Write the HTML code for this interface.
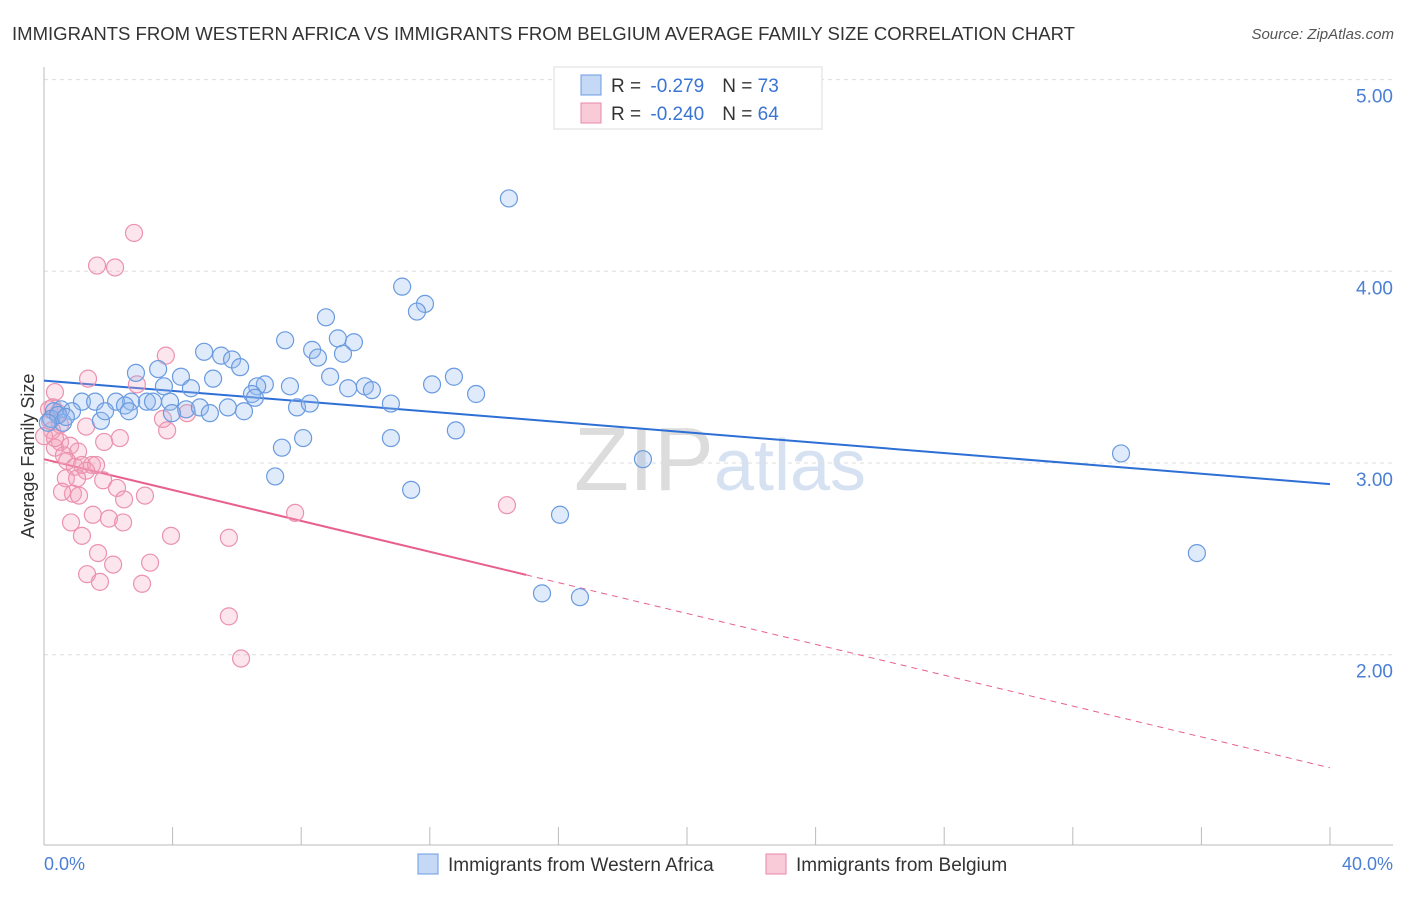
<!DOCTYPE html>
<html><head><meta charset="utf-8">
<style>
body{margin:0;background:#fff;font-family:"Liberation Sans",sans-serif;}
svg text{font-family:"Liberation Sans",sans-serif;}
</style></head>
<body>
<svg id="chart" width="1406" height="892">
<text x="12" y="40" font-size="18.5" fill="#333" textLength="1063" lengthAdjust="spacingAndGlyphs">IMMIGRANTS FROM WESTERN AFRICA VS IMMIGRANTS FROM BELGIUM AVERAGE FAMILY SIZE CORRELATION CHART</text>
<text x="1394" y="39" font-size="15" fill="#555" font-style="italic" text-anchor="end">Source: ZipAtlas.com</text>
<text x="720" y="490" font-size="90" fill="#e4e4e4" font-family="Liberation Serif" text-anchor="middle"><tspan fill="#dcdcdc">ZIP</tspan><tspan fill="#d6e2f2" font-family="Liberation Sans" font-size="72">atlas</tspan></text>
<g id="grid"></g>
<g id="axes"></g>
<g id="lines"></g>
<g id="pts"></g>
<text transform="translate(34,456) rotate(-90)" font-size="18" fill="#333" text-anchor="middle">Average Family Size</text>
<text x="44" y="870" font-size="18" fill="#4a7fd4">0.0%</text>
<text x="1393" y="870" font-size="18" fill="#4a7fd4" text-anchor="end">40.0%</text>
<g>
<rect x="554" y="67" width="268" height="62" fill="#fff" stroke="#ddd"/>
<rect x="581" y="75" width="20" height="20" fill="#c5d8f5" stroke="#6a9be0"/>
<text x="611" y="92" font-size="19" fill="#333">R = <tspan fill="#3a74d4" dx="4">-0.279</tspan><tspan dx="18">N = </tspan><tspan fill="#3a74d4">73</tspan></text>
<rect x="581" y="103" width="20" height="20" fill="#f9cad8" stroke="#e88aa8"/>
<text x="611" y="120" font-size="19" fill="#333">R = <tspan fill="#3a74d4" dx="4">-0.240</tspan><tspan dx="18">N = </tspan><tspan fill="#3a74d4">64</tspan></text>
</g>
<g>
<rect x="418" y="854" width="20" height="20" fill="#c5d8f5" stroke="#6a9be0"/>
<text x="448" y="871" font-size="19" fill="#333">Immigrants from Western Africa</text>
<rect x="766" y="854" width="20" height="20" fill="#f9cad8" stroke="#e88aa8"/>
<text x="796" y="871" font-size="19" fill="#333">Immigrants from Belgium</text>
</g>
</svg>
<script>
const yTicks=[2,3,4,5];
const yTickLabels=["2.00","3.00","4.00","5.00"];
const xTicks=[0,4,8,12,16,20,24,28,32,36,40];
const blueX=[14.46,11.14,11.85,11.60,8.77,7.50,9.14,9.64,4.98,5.51,5.85,8.34,8.52,9.30,3.55,2.86,6.10,4.26,5.26,8.90,12.75,12.07,6.87,7.65,3.73,4.57,6.63,9.46,9.98,10.20,13.44,6.47,6.56,1.18,1.59,2.24,3.20,3.39,3.92,2.71,2.52,0.53,0.87,0.31,0.22,0.59,1.77,1.90,4.42,4.85,5.72,6.22,5.16,7.87,8.27,10.79,3.98,0.44,8.06,10.79,12.81,7.40,7.19,11.42,18.63,16.05,33.50,35.86,15.49,16.67,0.12,0.68,2.64];
const blueY=[4.38,3.92,3.83,3.79,3.76,3.64,3.65,3.63,3.58,3.56,3.54,3.59,3.55,3.57,3.49,3.47,3.50,3.45,3.44,3.45,3.45,3.41,3.41,3.40,3.40,3.39,3.40,3.39,3.40,3.38,3.36,3.36,3.34,3.32,3.32,3.32,3.32,3.32,3.32,3.32,3.30,3.28,3.27,3.27,3.23,3.21,3.22,3.27,3.28,3.29,3.29,3.27,3.26,3.29,3.31,3.31,3.26,3.25,3.13,3.13,3.17,3.08,2.93,2.86,3.02,2.73,3.05,2.53,2.32,2.30,3.21,3.24,3.27];
const pinkX=[2.80,1.65,2.21,3.79,1.37,2.89,0.34,0.28,0.16,0.44,0.50,0.25,1.31,2.36,1.87,3.70,3.83,4.45,0.50,0.34,0.81,1.06,0.62,0.72,0.96,1.18,1.49,1.62,1.31,0.68,1.03,1.84,2.27,0.90,0.56,1.09,3.14,2.49,7.81,1.52,2.02,2.46,0.84,1.18,3.95,5.75,1.68,2.15,1.34,1.74,3.05,3.30,14.40,5.75,6.13,0.0,0.19,0.34];
const pinkY=[4.20,4.03,4.02,3.56,3.44,3.41,3.37,3.29,3.28,3.26,3.20,3.17,3.19,3.13,3.11,3.23,3.17,3.26,3.11,3.08,3.09,3.06,3.04,3.01,2.98,2.99,2.99,2.99,2.96,2.92,2.92,2.91,2.87,2.84,2.85,2.83,2.83,2.81,2.74,2.73,2.71,2.69,2.69,2.62,2.62,2.61,2.53,2.47,2.42,2.38,2.37,2.48,2.78,2.20,1.98,3.14,3.22,3.13];
const blueTrend=[3.43,2.89];
const pinkTrend=[3.02,1.41];
const pinkSolidEnd=15.0;

const sx=v=>44+v*32.15;
const sy=v=>463-(v-3)*191.7;
const NS="http://www.w3.org/2000/svg";
function mk(tag,attrs,parent){const e=document.createElementNS(NS,tag);for(const k in attrs)e.setAttribute(k,attrs[k]);document.getElementById(parent).appendChild(e);return e;}

yTicks.forEach((t,i)=>{
  const g=mk('line',{x1:44,x2:1393,y1:sy(t),y2:sy(t),stroke:'#ddd','stroke-dasharray':'4,4'},'grid');
  
  
  const tx=mk('text',{x:1393,y:sy(t)+23,'font-size':19,fill:'#4a7fd4','text-anchor':'end'},'grid');
  tx.textContent=yTickLabels[i];
  
  
});
const ax=mk('line',{x1:44,x2:1393,y1:845,y2:845,stroke:'#bbb'},'axes');


const ay=mk('line',{x1:44,x2:44,y1:67,y2:845,stroke:'#bbb'},'axes');


xTicks.forEach(t=>{
  const l=mk('line',{x1:sx(t),x2:sx(t),y1:827,y2:845,stroke:'#bbb'},'axes');
  
  
});
const bl=mk('line',{x1:sx(0),y1:sy(blueTrend[0]),x2:sx(40),y2:sy(blueTrend[1]),stroke:'#2e6fd6','stroke-width':2},'lines');


const py=x=>pinkTrend[0]+(pinkTrend[1]-pinkTrend[0])*x/40;
const pl=mk('line',{x1:sx(0),y1:sy(py(0)),x2:sx(pinkSolidEnd),y2:sy(py(pinkSolidEnd)),stroke:'#e8608c','stroke-width':2},'lines');


const pd=mk('line',{x1:sx(pinkSolidEnd),y1:sy(py(pinkSolidEnd)),x2:sx(40),y2:sy(py(40)),stroke:'#e8608c','stroke-width':1,'stroke-dasharray':'6,5'},'lines');


pinkX.forEach((x,i)=>{
  const c=mk('circle',{cx:sx(x),cy:sy(pinkY[i]),r:8.5,fill:'rgba(244,160,188,0.28)',stroke:'#eb92b0','stroke-width':1.2},'pts');
  
  
});
blueX.forEach((x,i)=>{
  const c=mk('circle',{cx:sx(x),cy:sy(blueY[i]),r:8.5,fill:'rgba(150,185,240,0.3)',stroke:'#6a9be0','stroke-width':1.2},'pts');
  
  
});
</script>
</body></html>
